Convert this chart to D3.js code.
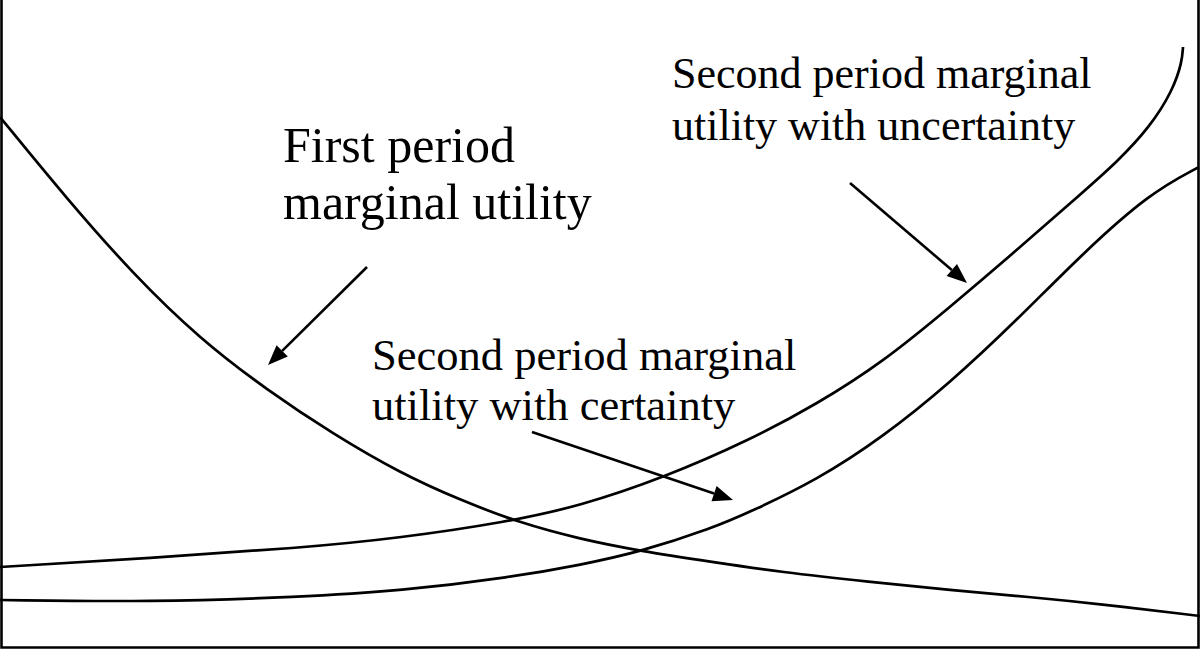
<!DOCTYPE html>
<html>
<head>
<meta charset="utf-8">
<script src="https://cdn.jsdelivr.net/npm/d3@7"></script>
<style>
  html, body { margin: 0; padding: 0; background: #fff; }
  svg { display: block; }
  text { font-family: "Liberation Serif", "Times New Roman", serif; fill: #000; }
</style>
</head>
<body>
<svg id="chart" width="1200" height="650"></svg>
<script>
// Conceptual chart values (x = consumption units, y = marginal utility units)
const firstPeriodX = [0, 6.7, 13.3, 20, 26.7, 33.3, 40, 46, 52, 58, 64, 71.3, 78, 87, 95, 103, 110, 120];
const firstPeriodY = [53.3, 45.1, 37.6, 31.1, 26, 21.6, 17.7, 15, 12.7, 11.1, 9.9, 8.8, 7.8, 6.8, 6, 5.3, 4.6, 3.4];

const uncertainX = [0, 15, 30, 40, 50.7, 58, 66.3, 75, 81.7, 88.3, 95, 101.7, 108.3, 111.7, 115, 117.3, 118.2, 118.3];
const uncertainY = [8.3, 9.2, 10.2, 11.2, 12.8, 14.4, 17.2, 21, 24.6, 28.8, 34.3, 40, 45.8, 48.8, 52.3, 56, 58.8, 60.3];

const certainX = [0, 15, 30, 40, 51.3, 58, 64, 71.3, 75, 81.7, 88.3, 95, 101.7, 108.3, 115, 119.9];
const certainY = [5, 4.8, 5.3, 5.9, 7.3, 8.5, 9.8, 12.2, 13.8, 17, 21.3, 26.7, 33, 39.7, 45.7, 48.3];

// Label text
const labelLines = [
  ["First period", "marginal utility"],
  ["Second period marginal", "utility with uncertainty"],
  ["Second period marginal", "utility with certainty"]
];
const labelX = [28.3, 67.2, 37.2];
const labelY = [48.8, 56.2, 28];
const labelSize = [50, 44, 44.5];
const labelLead = [57, 52, 50];

// Arrows (from -> to)
const arrowFromX = [36.7, 53.2, 85];
const arrowFromY = [38.3, 21.8, 46.7];
const arrowToX = [26.8, 73.3, 96.7];
const arrowToY = [28.5, 15, 36.7];

const W = 1200, H = 650;
const x = d3.scaleLinear().domain([0, 120]).range([0, W]);
const y = d3.scaleLinear().domain([0, 65]).range([H, 0]);

const svg = d3.select("#chart");
svg.append("rect").attr("width", W).attr("height", H).attr("fill", "#fff");

// frame (left, bottom, right)
svg.append("path")
  .attr("d", `M${x(0) + 1.5},${y(65)} V${y(0) - 2.5} H${x(120) - 1.5} V${y(65)}`)
  .attr("fill", "none").attr("stroke", "#000").attr("stroke-width", 2.6);

const line = d3.line().x(d => x(d[0])).y(d => y(d[1])).curve(d3.curveBasis);

const series = [
  d3.zip(firstPeriodX, firstPeriodY),
  d3.zip(uncertainX, uncertainY),
  d3.zip(certainX, certainY)
];
svg.selectAll("path.curve").data(series).join("path")
  .attr("class", "curve")
  .attr("d", line)
  .attr("fill", "none")
  .attr("stroke", "#000")
  .attr("stroke-width", 2.7);

// arrows
const headLen = 20, headHalf = 8;
arrowFromX.forEach((fx, i) => {
  const x1 = x(fx), y1 = y(arrowFromY[i]);
  const x2 = x(arrowToX[i]), y2 = y(arrowToY[i]);
  const ang = Math.atan2(y2 - y1, x2 - x1);
  const bx = x2 - headLen * Math.cos(ang), by = y2 - headLen * Math.sin(ang);
  svg.append("line")
    .attr("x1", x1).attr("y1", y1).attr("x2", bx).attr("y2", by)
    .attr("stroke", "#000").attr("stroke-width", 2.6);
  const px = -Math.sin(ang) * headHalf, py = Math.cos(ang) * headHalf;
  svg.append("polygon")
    .attr("points", `${x2},${y2} ${bx + px},${by + py} ${bx - px},${by - py}`)
    .attr("fill", "#000");
});

// labels
labelLines.forEach((lines, i) => {
  const t = svg.append("text")
    .attr("x", x(labelX[i]))
    .attr("y", y(labelY[i]))
    .attr("font-size", labelSize[i]);
  lines.forEach((s, j) => {
    t.append("tspan")
      .attr("x", x(labelX[i]))
      .attr("dy", j === 0 ? 0 : labelLead[i])
      .text(s);
  });
});
</script>
</body>
</html>
